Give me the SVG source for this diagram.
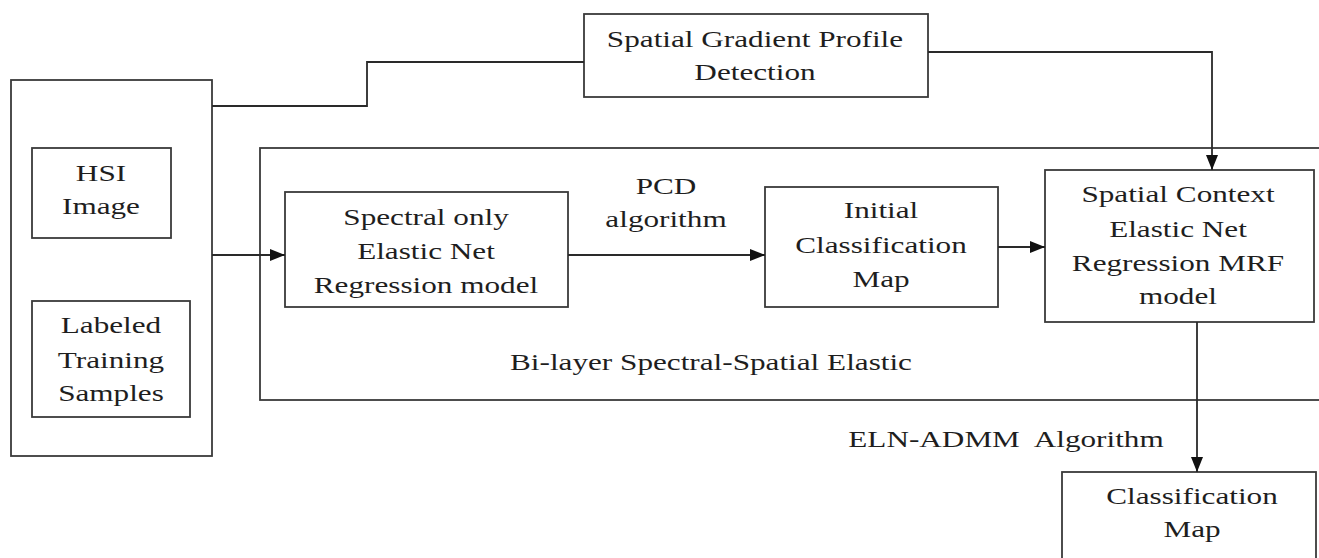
<svg xmlns="http://www.w3.org/2000/svg" width="1319" height="558" viewBox="0 0 1319 558">
  <style>
    .box { fill: none; stroke: #3a3a3a; stroke-width: 1.8; }
    .wire { fill: none; stroke: #2a2a2a; stroke-width: 1.8; }
    text { font-family: "Liberation Serif", "Times New Roman", serif; font-size: 24px; fill: #1e1e1e; text-anchor: middle; }
  </style>
  <defs>
    <marker id="arrow" viewBox="0 0 15 12" refX="15" refY="6" markerWidth="15" markerHeight="12" markerUnits="userSpaceOnUse" orient="auto">
      <path d="M0,0 L15,6 L0,12 Z" fill="#111"/>
    </marker>
  </defs>
  <rect width="1319" height="558" fill="#fff"/>

  <!-- input data container -->
  <g id="input">
    <rect class="box" x="11" y="80" width="201" height="376"/>
  </g>
  <g id="hsi-image">
    <rect class="box" x="32" y="148" width="139" height="90"/>
    <text transform="translate(101,181) scale(1.3,1)">HSI</text>
    <text transform="translate(101,214) scale(1.3,1)">Image</text>
  </g>
  <g id="training-samples">
    <rect class="box" x="32" y="301" width="158" height="116"/>
    <text transform="translate(111,333) scale(1.3,1)">Labeled</text>
    <text transform="translate(111,368) scale(1.3,1)">Training</text>
    <text transform="translate(111,401) scale(1.3,1)">Samples</text>
  </g>

  <g id="gradient-profile">
    <rect class="box" x="584" y="14" width="344" height="83"/>
    <text transform="translate(755,47) scale(1.3,1)">Spatial Gradient Profile</text>
    <text transform="translate(755,80) scale(1.3,1)">Detection</text>
  </g>

  <!-- bi-layer model container -->
  <g id="bilayer">
    <rect class="box" x="260" y="148" width="1070" height="252"/>
    <text transform="translate(711,370) scale(1.3,1)">Bi-layer Spectral-Spatial Elastic</text>
  </g>
  <g id="spectral-model">
    <rect class="box" x="285" y="192" width="283" height="115"/>
    <text transform="translate(426,225) scale(1.3,1)">Spectral only</text>
    <text transform="translate(426,259) scale(1.3,1)">Elastic Net</text>
    <text transform="translate(426,293) scale(1.3,1)">Regression model</text>
  </g>
  <g id="initial-map">
    <rect class="box" x="765" y="187" width="233" height="120"/>
    <text transform="translate(881,218) scale(1.3,1)">Initial</text>
    <text transform="translate(881,253) scale(1.3,1)">Classification</text>
    <text transform="translate(881,287) scale(1.3,1)">Map</text>
  </g>
  <g id="spatial-context">
    <rect class="box" x="1045" y="170" width="269" height="152"/>
    <text transform="translate(1178,202) scale(1.3,1)">Spatial Context</text>
    <text transform="translate(1178,237) scale(1.3,1)">Elastic Net</text>
    <text transform="translate(1178,271) scale(1.3,1)">Regression MRF</text>
    <text transform="translate(1178,304) scale(1.3,1)">model</text>
  </g>
  <g id="classification-map">
    <rect class="box" x="1062" y="472" width="254" height="100"/>
    <text transform="translate(1192,504) scale(1.3,1)">Classification</text>
    <text transform="translate(1192,537) scale(1.3,1)">Map</text>
  </g>

  <g id="connectors">
    <polyline class="wire" points="212,106 367,106 367,62 584,62"/>
    <polyline class="wire" points="928,52 1212,52 1212,170" marker-end="url(#arrow)"/>
    <line class="wire" x1="212" y1="255" x2="285" y2="255" marker-end="url(#arrow)"/>
    <line class="wire" x1="568" y1="255" x2="765" y2="255" marker-end="url(#arrow)"/>
    <line class="wire" x1="998" y1="247" x2="1045" y2="247" marker-end="url(#arrow)"/>
    <line class="wire" x1="1197" y1="322" x2="1197" y2="472" marker-end="url(#arrow)"/>
    <text transform="translate(666,194) scale(1.3,1)">PCD</text>
    <text transform="translate(666,227) scale(1.3,1)">algorithm</text>
    <text transform="translate(1006,447) scale(1.3,1)" xml:space="preserve">ELN-ADMM  Algorithm</text>
  </g>
</svg>
